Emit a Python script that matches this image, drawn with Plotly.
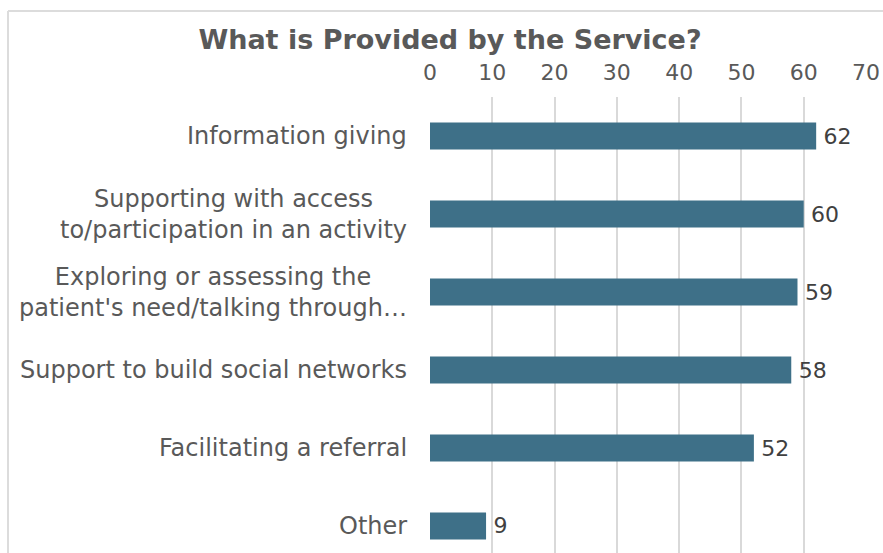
import plotly.graph_objects as go

# Survey responses: what the service provides
categories = [
    "Information giving",
    "Supporting with access<br>to/participation in an activity",
    "Exploring or assessing the<br>patient's need/talking through…",
    "Support to build social networks",
    "Facilitating a referral",
    "Other",
]
counts = [62, 60, 59, 58, 52, 9]
x_ticks = [0, 10, 20, 30, 40, 50, 60, 70]

W, H = 883, 553
M_L, M_R, M_T, M_B = 430, 17, 97, 0
plot_w = W - M_L - M_R
plot_h = H - M_T - M_B
row_px = 78  # vertical space per category

bar_color = "#3e7088"
label_color = "#595959"
value_color = "#404040"
grid_color = "#d9d9d9"
font_family = "DejaVu Sans"

fig = go.Figure(
    go.Bar(
        x=counts,
        y=categories,
        orientation="h",
        marker=dict(color=bar_color, line=dict(width=0)),
        text=["\u2009" + str(v) for v in counts],
        textposition="outside",
        textfont=dict(family=font_family, size=22, color=value_color),
        cliponaxis=False,
        width=0.345,
    )
)

# Category labels: wrapped lines are centred on each other, block right-aligned
for cat in categories:
    fig.add_annotation(
        x=0, xref="paper", y=cat, yref="y",
        text=cat, showarrow=False,
        xanchor="right", yanchor="middle", align="center",
        xshift=-21,
        font=dict(family=font_family, size=24, color=label_color),
    )

# Frame around the chart: only top and left edges fall inside the page
def px_to_paper_x(px):
    return (px - M_L) / plot_w

def px_to_paper_y(py):
    return (H - M_B - py) / plot_h

fig.add_shape(type="line", xref="paper", yref="paper",
              x0=px_to_paper_x(8), x1=px_to_paper_x(W + 5),
              y0=px_to_paper_y(11), y1=px_to_paper_y(11),
              line=dict(color="#dcdcdc", width=2))
fig.add_shape(type="line", xref="paper", yref="paper",
              x0=px_to_paper_x(8), x1=px_to_paper_x(8),
              y0=px_to_paper_y(11), y1=px_to_paper_y(H + 5),
              line=dict(color="#dcdcdc", width=2))

bottom = -0.5 + plot_h / row_px

fig.update_layout(
    width=W,
    height=H,
    margin=dict(l=M_L, r=M_R, t=M_T, b=M_B, pad=0),
    paper_bgcolor="white",
    plot_bgcolor="white",
    showlegend=False,
    title=dict(
        text="<b>What is Provided by the Service?</b>",
        x=px_to_paper_x(450), xref="paper", xanchor="center",
        y=1 - 40 / H, yref="container", yanchor="middle",
        font=dict(family=font_family, size=27, color=label_color),
    ),
    xaxis=dict(
        side="top",
        range=[0, 70],
        tickvals=x_ticks,
        ticktext=[str(t) for t in x_ticks],
        showgrid=True,
        gridcolor=grid_color,
        gridwidth=1.5,
        zeroline=False,
        showline=False,
        ticks="",
        ticklabelstandoff=12,
        tickfont=dict(family=font_family, size=22, color=label_color),
        fixedrange=True,
    ),
    yaxis=dict(
        range=[bottom, -0.5],
        type="category",
        categoryarray=categories,
        showgrid=False,
        zeroline=False,
        showline=False,
        showticklabels=False,
        ticks="",
        fixedrange=True,
    ),
)

fig.write_html("out.html")
